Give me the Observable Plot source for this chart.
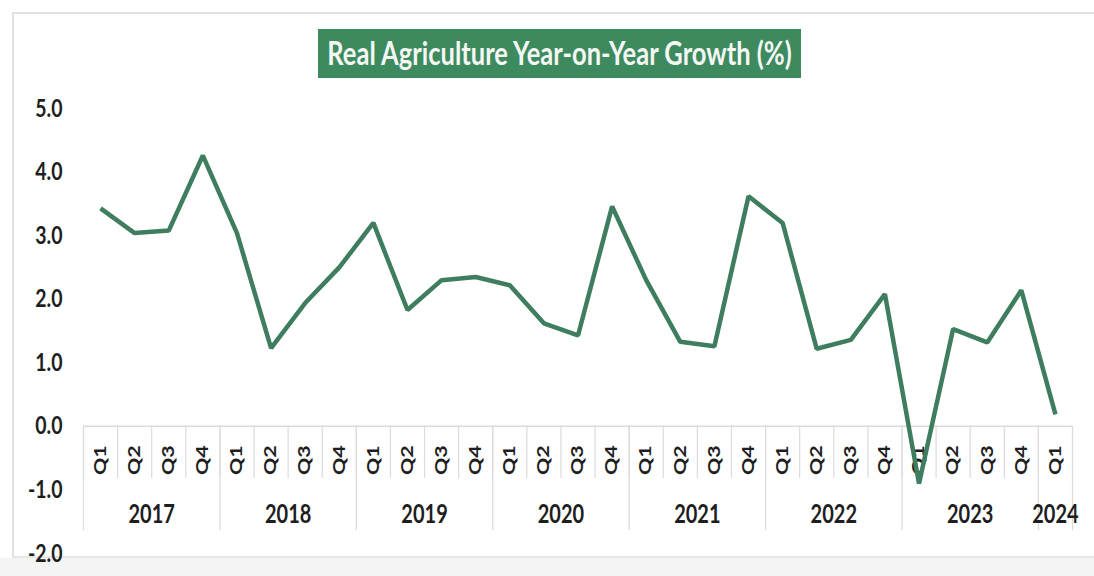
<!DOCTYPE html>
<html>
<head>
<meta charset="utf-8">
<script src="https://cdn.jsdelivr.net/npm/d3@7"></script>
<script src="https://cdn.jsdelivr.net/npm/@observablehq/plot@0.6"></script>
<style>
  html, body { margin: 0; padding: 0; background: #fff; }
  #wrap { position: relative; width: 1094px; height: 576px; overflow: hidden; }
  #frame { position: absolute; left: 12px; top: 12px; width: 1100px; height: 542px;
           border-left: 2px solid #e2e2e2; border-top: 2px solid #e2e2e2; border-bottom: 2px solid #e6e6e6; }
  #below { position: absolute; left: 0; top: 558px; width: 1094px; height: 18px; background: #f4f4f4; }
  #title { position: absolute; left: 318px; top: 29px; width: 483px; height: 49px;
           background: #3d8a5f; color: #f4f7f4; font-family: Lato, sans-serif;
           font-weight: bold; font-size: 25.5px; line-height: 49px; text-align: center; white-space: nowrap; }
  #title span { display: inline-block; transform: scaleY(1.25); }
  #chart { position: absolute; left: 0; top: 0; }
</style>
</head>
<body>
<div id="wrap">
  <div id="frame"></div>
  <div id="below"></div>
  <div id="chart"></div>
  <div id="title"><span>Real Agriculture Year-on-Year Growth (%)</span></div>
</div>
<script>
const quarterLabels = ["Q1","Q2","Q3","Q4","Q1","Q2","Q3","Q4","Q1","Q2","Q3","Q4","Q1","Q2","Q3","Q4",
                       "Q1","Q2","Q3","Q4","Q1","Q2","Q3","Q4","Q1","Q2","Q3","Q4","Q1"];
const periodYears = ["2017","2017","2017","2017","2018","2018","2018","2018","2019","2019","2019","2019",
                     "2020","2020","2020","2020","2021","2021","2021","2021","2022","2022","2022","2022",
                     "2023","2023","2023","2023","2024"];
const growth = [3.43, 3.04, 3.08, 4.26,
                3.04, 1.23, 1.94, 2.50,
                3.20, 1.83, 2.30, 2.35,
                2.22, 1.62, 1.43, 3.46,
                2.30, 1.33, 1.26, 3.62,
                3.20, 1.22, 1.36, 2.08,
                -0.90, 1.53, 1.32, 2.14,
                0.19];
const yearLabels = ["2017","2018","2019","2020","2021","2022","2023","2024"];
const yTicks = [-2, -1, 0, 1, 2, 3, 4, 5];

const points = growth.map((v, i) => ({i, v, q: quarterLabels[i], year: periodYears[i]}));
const n = points.length;
const quarterEdges = d3.range(n + 1).map(k => k - 0.5);
const yearEdges = quarterEdges.filter(e => e === -0.5 || e === n - 0.5 || periodYears[e - 0.5] !== periodYears[e + 0.5]);
const yearCenters = yearLabels.map(y => {
  const idx = points.filter(p => p.year === y).map(p => p.i);
  return {year: y, i: d3.mean(idx)};
});

const font = 'Lato, sans-serif';
const green = "#3e7d5d";
const grid = "#dcdcdc";
const ink = "#1e1e1e";

const chart = Plot.plot({
  width: 1094,
  height: 576,
  marginTop: 108,
  marginBottom: 23,
  marginLeft: 83,
  marginRight: 22,
  style: {fontFamily: font, fontSize: "19.5px", fontWeight: "bold", color: ink, background: "transparent"},
  x: {type: "linear", domain: [-0.5, n - 0.5], axis: null},
  y: {domain: [-2, 5], ticks: yTicks, tickFormat: d => d.toFixed(1), tickSize: 0, tickPadding: 21, label: null},
  marks: [
    Plot.ruleY([0], {stroke: grid, strokeWidth: 1.5}),
    Plot.ruleX(quarterEdges, {x: d => d, y1: 0, y2: -0.82, stroke: grid, strokeWidth: 1.2}),
    Plot.ruleX(yearEdges, {x: d => d, y1: 0, y2: -1.64, stroke: grid, strokeWidth: 1.2}),
    Plot.text(points, {x: "i", y: 0, text: "q", rotate: -90, textAnchor: "end", lineAnchor: "middle",
                       dy: 19, fontSize: 16.5, fill: ink, className: "qlab"}),
    Plot.text(yearCenters, {x: "i", y: 0, text: "year", dy: 88, fontSize: 20, fill: ink, className: "ylab"}),
    Plot.line(points, {x: "i", y: "v", stroke: green, strokeWidth: 4.5, strokeLinejoin: "miter", strokeLinecap: "butt"})
  ]
});

// vertical stretch of lettering, as in the reference
d3.select(chart).selectAll("text").each(function() {
  const t = d3.select(this);
  const isQ = this.closest(".qlab") !== null;
  const tr = t.attr("transform") || "";
  t.attr("transform", tr + (isQ ? " scale(1.3,1)" : " scale(1,1.3)"));
});
document.getElementById("chart").appendChild(chart);
</script>
</body>
</html>
